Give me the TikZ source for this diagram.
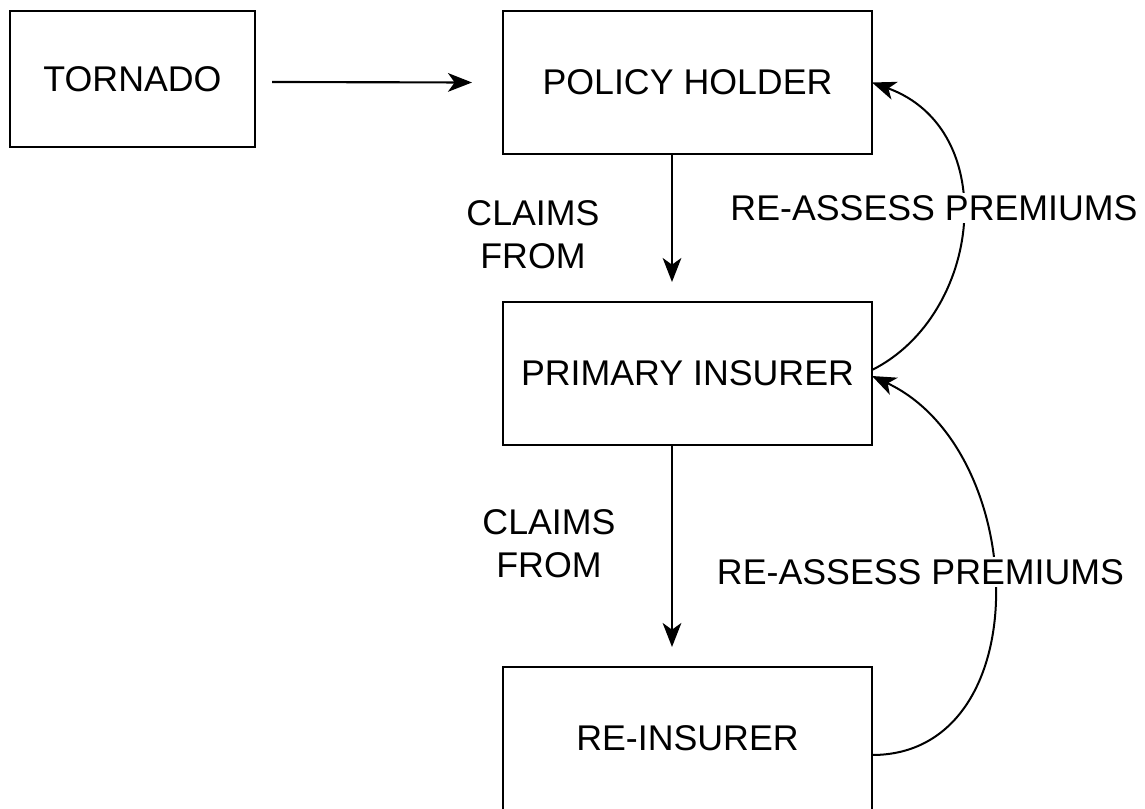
\documentclass[tikz,border=0pt]{standalone}
\usepackage{fontspec}
\setmainfont{Liberation Sans}
\usetikzlibrary{arrows.meta}
\begin{document}
\begin{tikzpicture}[x=0.75pt,y=-0.75pt,
  every node/.style={font=\fontsize{26.8}{32}\selectfont},
  box/.style={draw=black,line width=1.6pt,rectangle,outer sep=0pt,minimum width=276.75pt,minimum height=107.25pt,inner sep=0pt},
  lbl/.style={inner sep=0pt,align=center},
  tag/.style={fill=white,inner sep=2pt},
  tip/.style={-{Stealth[length=18pt,width=14pt,inset=5pt]}},
  arr/.style={line width=1.6pt,tip},
  crv/.style={line width=1.5pt,tip}]
\useasboundingbox (0,0) rectangle (1145,809);
\node[box,minimum width=183.75pt,minimum height=102pt] (t) at (132.5,79) {TORNADO};
\node[box] (p) at (687.5,82.5) {POLICY HOLDER};
\node[box] (pi) at (687.5,373.5) {PRIMARY INSURER};
\node[box] (r) at (687.5,738.5) {RE-INSURER};
\node[lbl] (c1) at (533,234.5) {CLAIMS\\FROM};
\node[lbl] (c2) at (549,543.5) {CLAIMS\\FROM};
\draw[arr] ([shift={(17,3)}]t.east) -- ([shift={(-31,0)}]p.west);
\draw[arr] ([shift={(-15.5,0)}]p.south) -- ([shift={(-15.5,-20)}]pi.north);
\draw[arr] ([shift={(-15.5,0)}]pi.south) -- ([shift={(-15.5,-20)}]r.north);
\draw[crv] ([shift={(0,-3.5)}]pi.east) .. controls +(110,-55) and +(130,47) .. (p.east);
\draw[crv] ([shift={(0,16.5)}]r.east) .. controls +(168,0) and +(158,74) .. ([shift={(0,2.5)}]pi.east);
\node[tag] (a1) at (934,208) {RE-ASSESS PREMIUMS};
\node[tag] (a2) at (920.5,572) {RE-ASSESS PREMIUMS};
\end{tikzpicture}
\end{document}
